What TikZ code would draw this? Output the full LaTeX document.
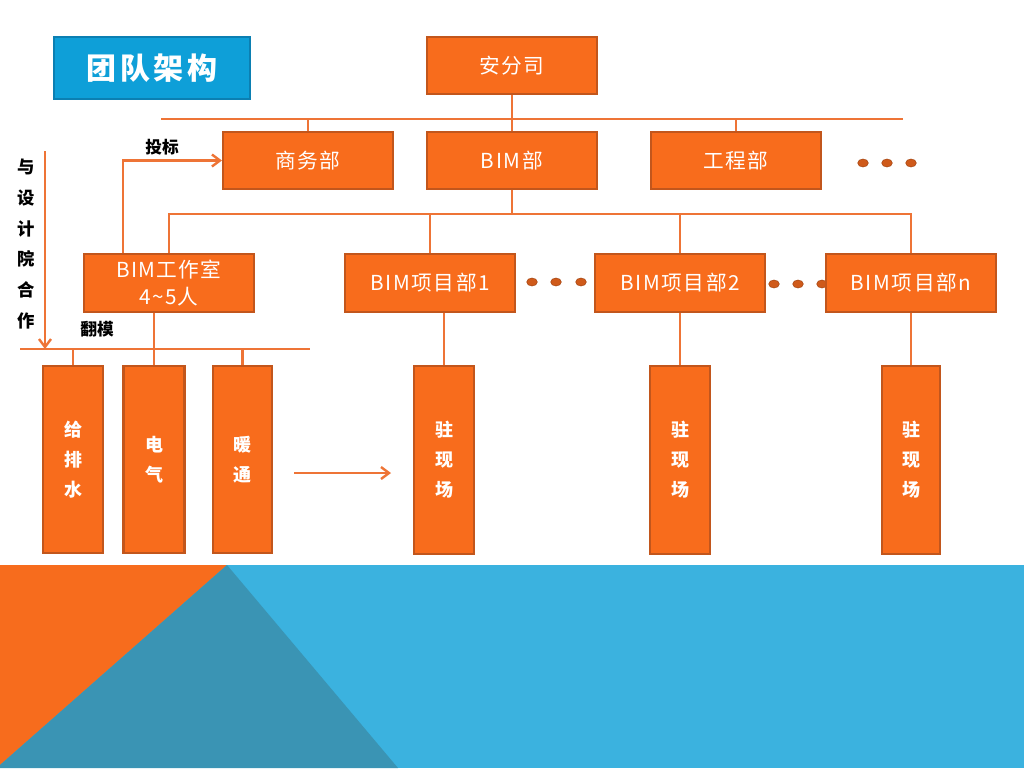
\documentclass[tikz,border=0pt]{standalone}
\usepackage{fontspec}
\setmainfont{Noto Sans CJK SC}
\usetikzlibrary{arrows.meta}
\definecolor{ofill}{HTML}{F86C1C}
\definecolor{oborder}{HTML}{C2561C}
\definecolor{oline}{HTML}{EE7436}
\definecolor{odot}{HTML}{CF5A1A}
\definecolor{tfill}{HTML}{0E9FD8}
\definecolor{tborder}{HTML}{0B7FB2}
\definecolor{bglight}{HTML}{3BB2DF}
\definecolor{bgdark}{HTML}{3A94B4}
\definecolor{bgorange}{HTML}{F76C1D}
\begin{document}
\begin{tikzpicture}[x=0.75pt,y=-0.75pt,
  sz/.style 2 args={minimum width=#1*0.75pt, minimum height=#2*0.75pt},
  obox/.style={draw=oborder, line width=1.6pt, fill=ofill, inner sep=0pt,
     text=white, font={\fontsize{15.5pt}{18pt}\selectfont\addfontfeatures{LetterSpace=8}}, align=center},
  vbox/.style={obox, font={\fontsize{13.5pt}{22.5pt}\selectfont\bfseries}},
  conn/.style={draw=oline, line width=2.2pt},
  arr/.style={conn, -{Straight Barb[length=6pt,width=9pt,line width=1.8pt]}},
  lbl/.style={text=black, inner sep=0pt, font={\fontsize{12.5pt}{15pt}\selectfont\bfseries}},
  dotc/.style={fill=odot, draw=odot!80!black, line width=0.4pt}
]
\useasboundingbox (0,0) rectangle (1024,768);
\fill[white] (0,0) rectangle (1024,768);
% background band
\fill[bglight] (0,565) rectangle (1024,768);
\fill[bgorange] (0,565) -- (227,565) -- (0,765) -- cycle;
\fill[bgdark] (227,565) -- (398,768) -- (0,768) -- (0,765) -- cycle;

% dots (drawn first so boxes cover them)
\foreach \x in {863,887,911} \fill[dotc] (\x,163) ellipse [x radius=4pt, y radius=3pt];
\foreach \x in {532,556,581} \fill[dotc] (\x,282) ellipse [x radius=4pt, y radius=3pt];
\foreach \x in {774,798,822} \fill[dotc] (\x,284) ellipse [x radius=4pt, y radius=3pt];

% title
\node[draw=tborder, line width=1.6pt, fill=tfill, sz={196}{62}, text=white, inner sep=0pt,
  font={\fontsize{22.5pt}{26pt}\selectfont\bfseries\addfontfeatures{LetterSpace=12}}] (title) at (152,68) {团队架构};

% top levels
\node[obox, sz={170}{57}] (afs) at (512,65.5) {安分司};
\node[obox, sz={170}{57}] (swb) at (308,160.5) {商务部};
\node[obox, sz={170}{57}] (bimb) at (512,160.5) {BIM部};
\node[obox, sz={170}{57}] (gcb) at (736,160.5) {工程部};

\node[obox, sz={170}{58}, font={\fontsize{15.5pt}{20pt}\selectfont\addfontfeatures{LetterSpace=6}}] (gzs) at (169,283) {BIM工作室\\4\textasciitilde 5人};
\node[obox, sz={170}{58}] (xm1) at (430,283) {BIM项目部1};
\node[obox, sz={170}{58}] (xm2) at (680,283) {BIM项目部2};
\node[obox, sz={170}{58}] (xmn) at (911,283) {BIM项目部n};

% bottom column boxes
\node[vbox, sz={60}{187}] (gps) at (73,459.5) {给\\排\\水};
\node[vbox, sz={61}{187}] (dq) at (154,459.5) {电\\气};
\node[vbox, sz={59}{187}] (nt) at (242.5,459.5) {暖\\通};
\node[vbox, sz={60}{188}] (zx1) at (444,460) {驻\\现\\场};
\node[vbox, sz={60}{188}] (zx2) at (680,460) {驻\\现\\场};
\node[vbox, sz={58}{188}] (zx3) at (911,460) {驻\\现\\场};

% connector coordinates
\coordinate (L1a) at (161,119);
\coordinate (L1b) at (903,119);
\coordinate (L2) at (512,214);
\coordinate (L3a) at (20,349);
\coordinate (L3b) at (310,349);
\coordinate (V1) at (45,151);
\coordinate (A1) at (294,473);
\coordinate (A2) at (391,473);

\draw[conn] (L1a) -- (L1b);
\draw[conn] (afs.south) -- (bimb.north);
\draw[conn] (swb.north) -- (swb.north |- L1a);
\draw[conn] (gcb.north) -- (gcb.north |- L1a);
\draw[conn] (bimb.south) -- (L2);
\draw[conn] (gzs.north) |- (L2) -| (xmn.north);
\draw[conn] (xm1.north) -- (xm1.north |- L2);
\draw[conn] (xm2.north) -- (xm2.north |- L2);
\draw[arr] ([xshift=-34.5pt]gzs.north) |- (swb.west);
\draw[conn] (L3a) -- (L3b);
\draw[arr] (V1) -- (V1 |- L3a);
\draw[conn] (dq.north) -- (dq.north |- gzs.south);
\draw[conn] (gps.north) -- (gps.north |- L3a);
\draw[conn] (nt.north) -- (nt.north |- L3a);
\draw[conn] (zx1.north |- xm1.south) -- (zx1.north);
\draw[conn] (xm2.south) -- (zx2.north);
\draw[conn] (xmn.south) -- (zx3.north);
\draw[arr] (A1) -- (A2);

% labels
\node[lbl] (tb) at (162,147) {投标};
\node[lbl] (fm) at (97,329) {翻模};
\node[lbl, align=center, font={\fontsize{13pt}{23.2pt}\selectfont\bfseries}] (sj) at (26,244) {与\\设\\计\\院\\合\\作};
\end{tikzpicture}
\end{document}
